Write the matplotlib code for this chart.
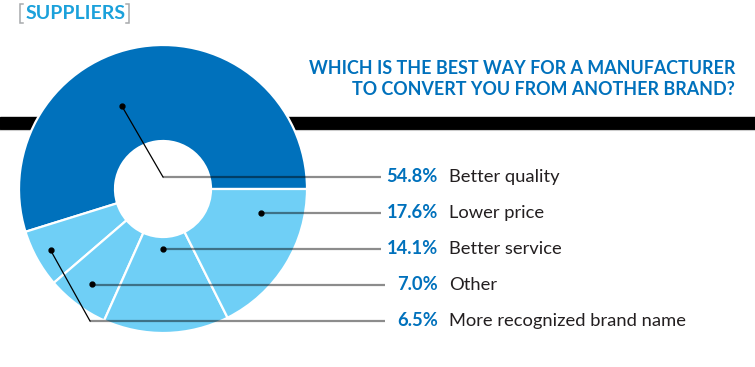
import numpy as np
import matplotlib.pyplot as plt

# survey data
labels = ['Better quality', 'Lower price', 'Better service', 'Other',
          'More recognized brand name']
shares = [54.8, 17.6, 14.1, 7.0, 6.5]
# order of the wedges going counter-clockwise from 3 o'clock
wedge_order = [0, 4, 3, 2, 1]

title = 'WHICH IS THE BEST WAY FOR A MANUFACTURER\nTO CONVERT YOU FROM ANOTHER BRAND?'
tag = 'SUPPLIERS'

DARK = '#0071bc'
LIGHT = '#6fcff6'
TXT = '#231f20'
plt.rcParams['font.family'] = ['Lato', 'DejaVu Sans']

W, H = 755, 367
fig = plt.figure(figsize=(W/100, H/100), dpi=100)
ax = fig.add_axes([0, 0, 1, 1])

# black band behind the donut
ax.axhspan(H-129, H-117, color='black', zorder=0)
ax.axhline(H-130, color='#cccccc', lw=0.8, zorder=0)

cx, cy, R = 163, H-189, 144
vals = [shares[i] for i in wedge_order]
cols = [DARK if i == 0 else LIGHT for i in wedge_order]
wedges, _ = ax.pie(vals, colors=cols, startangle=0, counterclock=True,
                   center=(cx, cy), radius=R, frame=True,
                   wedgeprops=dict(width=R-48, edgecolor='white', linewidth=1.6))
ax.set_xlim(0, W)
ax.set_ylim(0, H)
ax.set_aspect('equal')
ax.axis('off')

# leader placement: fraction through wedge, radius of dot, row of label
dot_frac = {0: 0.59, 1: 0.78, 2: 0.48, 3: 0.5, 4: 0.48}
dot_rad = {0: 93, 1: 101, 2: 60, 3: 119, 4: 128}
row_y = H - 177
row_gap = 36
line_end = {0: 381, 1: 381, 2: 381, 3: 385, 4: 385}

start = 0.0
wedge_span = {}
for k, i in enumerate(wedge_order):
    span = vals[k] * 3.6
    wedge_span[i] = (start, span)
    start += span

for i, (lab, pct) in enumerate(zip(labels, shares)):
    a0, span = wedge_span[i]
    ang = np.radians(a0 + dot_frac[i] * span)
    dx = cx + dot_rad[i] * np.cos(ang)
    dy = cy + dot_rad[i] * np.sin(ang)
    ly = row_y - i * row_gap
    ax.plot(dx, dy, 'o', color='black', ms=3.5, zorder=5)
    if abs(dy - ly) > 3:
        # elbow leader: black diagonal then grey horizontal
        ex = cx if i == 0 else 90
        ax.plot([dx, ex], [dy, ly], color='black', lw=0.9, zorder=5)
        x0 = ex
    else:
        x0 = dx
    ax.plot([x0, line_end[i]], [ly, ly], color='black', alpha=0.45,
            lw=1.6, solid_capstyle='butt', zorder=4)
    ax.text(438, ly, '%.1f%%' % pct, color=DARK, fontsize=13.2, fontweight='bold',
            ha='right', va='center')
    ax.text(449, ly, lab, color=TXT, fontsize=13.2, ha='left', va='center')

ax.text(735, H-79, title, color=DARK, fontsize=12.9, fontweight='bold',
        ha='right', va='center', linespacing=1.3)

# bracketed section tag
ax.plot([23, 20, 20, 23], [H-4, H-4, H-23, H-23], color='#a7a9ac', lw=1.1,
        solid_joinstyle='miter')
ax.plot([126, 129, 129, 126], [H-4, H-4, H-23, H-23], color='#a7a9ac', lw=1.1,
        solid_joinstyle='miter')
ax.text(26, H-13.5, tag, color='#1ba1db', fontsize=14, fontweight='bold',
        ha='left', va='center')

fig.savefig('out.png', dpi=100)
